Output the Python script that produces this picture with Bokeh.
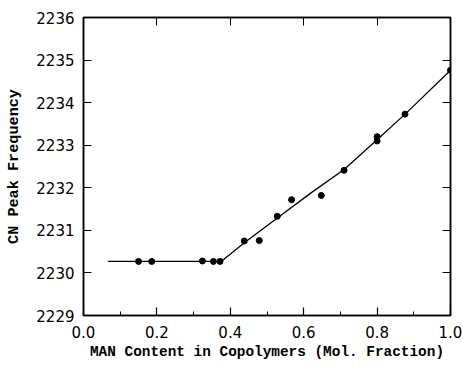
from bokeh.plotting import figure
from bokeh.models import LinearAxis, FixedTicker, NumeralTickFormatter, Range1d
from bokeh.embed import file_html
from bokeh.resources import INLINE

# measured data points (MAN mole fraction, CN peak frequency)
x_pts = [0.150, 0.186, 0.324, 0.354, 0.372, 0.438, 0.479, 0.528, 0.567, 0.648,
         0.710, 0.800, 0.800, 0.876, 1.000]
y_pts = [2230.27, 2230.27, 2230.28, 2230.27, 2230.27, 2230.75, 2230.76, 2231.33,
         2231.72, 2231.82, 2232.41, 2233.10, 2233.20, 2233.73, 2234.76]

# fitted curve vertices
x_fit = [0.067, 0.375, 0.44, 0.53, 0.62, 0.71, 0.80, 0.88, 1.00]
y_fit = [2230.27, 2230.27, 2230.72, 2231.30, 2231.88, 2232.43, 2233.13, 2233.76, 2234.76]

x_ticks = [0.0, 0.2, 0.4, 0.6, 0.8, 1.0]
x_minor = [0.1, 0.3, 0.5, 0.7, 0.9]
y_ticks = [2229, 2230, 2231, 2232, 2233, 2234, 2235, 2236]

p = figure(width=463, height=367, output_backend="svg", toolbar_location=None,
           x_range=Range1d(0.0, 1.0), y_range=Range1d(2229, 2236),
           min_border_left=83, min_border_right=13, min_border_top=17, min_border_bottom=52)
p.background_fill_color = "white"
p.border_fill_color = "white"
p.outline_line_color = "black"
p.outline_line_width = 1.5
p.grid.visible = False

p.line(x_fit, y_fit, line_color="black", line_width=1.3)
p.scatter(x_pts, y_pts, size=6, color="black")

tick_font = "DejaVu Sans"
label_font = "Liberation Mono"

xa = p.xaxis[0]
xa.ticker = FixedTicker(ticks=x_ticks, minor_ticks=x_minor)
xa.formatter = NumeralTickFormatter(format="0.0")
xa.axis_label = "MAN Content in Copolymers (Mol. Fraction)"
ya = p.yaxis[0]
ya.ticker = FixedTicker(ticks=y_ticks)
ya.axis_label = "CN Peak Frequency"

for ax in (xa, ya):
    ax.axis_line_width = 1.5
    ax.major_tick_in = 8
    ax.major_tick_out = 0
    ax.minor_tick_in = 4
    ax.minor_tick_out = 0
    ax.major_tick_line_width = 1.2
    ax.major_label_text_font = tick_font
    ax.major_label_text_font_size = "15px"
    ax.major_label_text_color = "black"
    ax.axis_label_text_font = label_font
    ax.axis_label_text_font_style = "bold"
    ax.axis_label_text_color = "black"
xa.axis_label_text_font_size = "14.4px"
ya.axis_label_text_font_size = "15.2px"
ya.minor_tick_in = 0
xa.major_label_standoff = 10
xa.axis_label_standoff = 3
ya.major_label_standoff = 9
ya.axis_label_standoff = 10

top = LinearAxis(ticker=FixedTicker(ticks=x_ticks, minor_ticks=[]),
                 major_label_overrides={t: "" for t in x_ticks})
right = LinearAxis(ticker=FixedTicker(ticks=y_ticks, minor_ticks=[]),
                   major_label_overrides={t: "" for t in y_ticks})
for ax in (top, right):
    ax.axis_line_width = 1.5
    ax.major_tick_in = 8
    ax.major_tick_out = 0
    ax.minor_tick_in = 0
    ax.minor_tick_out = 0
    ax.major_label_standoff = 0
p.add_layout(top, "above")
p.add_layout(right, "right")

open("out.html", "w").write(file_html(p, INLINE))
